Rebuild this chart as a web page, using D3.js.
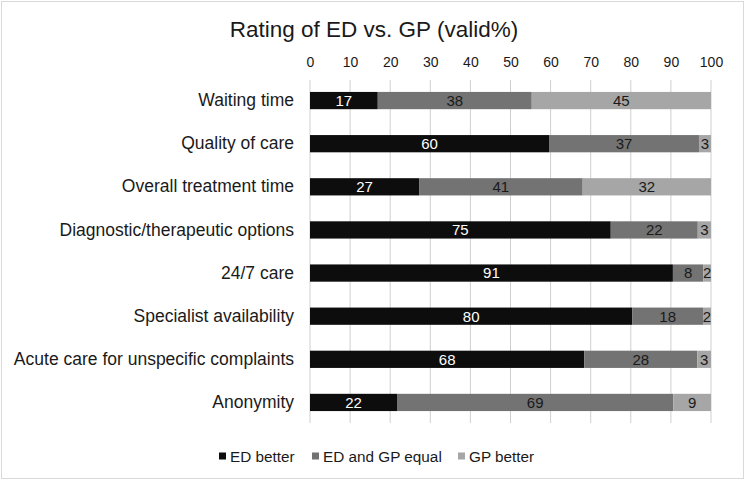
<!DOCTYPE html>
<html>
<head>
<meta charset="utf-8">
<script src="https://cdn.jsdelivr.net/npm/d3@7"></script>
<style>
  body { margin: 0; background: #fff; }
  svg { font-family: 'Liberation Sans', Arial, sans-serif; }
</style>
</head>
<body>
<svg width="745" height="480"></svg>
<script>
const categories = [
  'Waiting time',
  'Quality of care',
  'Overall treatment time',
  'Diagnostic/therapeutic options',
  '24/7 care',
  'Specialist availability',
  'Acute care for unspecific complaints',
  'Anonymity'
]
const seriesNames = ['ED better', 'ED and GP equal', 'GP better']
const edBetter = [16.9, 59.6, 27.2, 75.0, 90.5, 80.4, 68.4, 21.7]
const equal = [38.4, 37.4, 40.8, 21.7, 7.6, 17.6, 28.2, 68.9]
const gpBetter = [44.7, 3.0, 32.0, 3.3, 1.9, 2.0, 3.4, 9.4]
const xTicks = [0, 10, 20, 30, 40, 50, 60, 70, 80, 90, 100]

const colors = ['#0d0d0d', '#737373', '#a6a6a6']
const labelColors = ['#ffffff', '#1a1a1a', '#1a1a1a']
const fontFamily = "'Liberation Sans', Arial, sans-serif"

draw()

function draw () {
  const svg = d3.select('svg')
  const margin = { top: 79, left: 310, right: 34, bottom: 56 }
  const width = 745, height = 480

  svg.append('rect') // outer frame
    .attr('x', 1.5).attr('y', 1.5)
    .attr('width', width - 3).attr('height', height - 3)
    .attr('fill', '#fff').attr('stroke', '#d9d9d9')

  svg.append('text')
    .attr('x', 374).attr('y', 37)
    .attr('text-anchor', 'middle')
    .attr('font-size', 22.5)
    .attr('fill', '#1a1a1a')
    .text('Rating of ED vs. GP (valid%)')

  const x = d3.scaleLinear().domain([0, 100]).range([margin.left, width - margin.right])
  const y = d3.scaleBand().domain(categories)
    .range([margin.top, height - margin.bottom])
    .paddingInner(0.6).paddingOuter(0.3)

  // gridlines
  svg.append('g')
    .selectAll('line')
    .data(xTicks)
    .join('line')
      .attr('x1', d => x(d)).attr('x2', d => x(d))
      .attr('y1', margin.top + 1).attr('y2', height - margin.bottom - 1)
      .attr('stroke', '#cfcfcf').attr('stroke-width', 1)

  // top axis labels
  const axis = svg.append('g')
    .attr('transform', `translate(0, ${margin.top - 12})`)
    .call(d3.axisTop(x).tickValues(xTicks).tickSize(0).tickPadding(0))
  axis.select('.domain').remove()
  axis.selectAll('text').attr('font-size', 14).attr('fill', '#1a1a1a')
    .attr('font-family', fontFamily)

  // category labels
  const yAxis = svg.append('g')
    .attr('transform', `translate(${margin.left}, 0)`)
    .call(d3.axisLeft(y).tickSize(0).tickPadding(16))
  yAxis.select('.domain').remove()
  yAxis.selectAll('text').attr('font-size', 17.5).attr('fill', '#1a1a1a')
    .attr('font-family', fontFamily)

  const rows = categories.map((c, i) => ({ cat: c, values: [edBetter[i], equal[i], gpBetter[i]] }))
  const stacked = d3.stack().keys([0, 1, 2]).value((d, k) => d.values[k])(rows)

  const layers = svg.append('g').selectAll('g')
    .data(stacked)
    .join('g')
      .attr('fill', (d, i) => colors[i])

  layers.selectAll('rect')
    .data(d => d)
    .join('rect')
      .attr('x', d => x(d[0]))
      .attr('width', d => x(d[1]) - x(d[0]))
      .attr('y', d => y(d.data.cat))
      .attr('height', y.bandwidth())

  const fmt = d3.format('.0f')
  svg.append('g').selectAll('g')
    .data(stacked)
    .join('g')
      .attr('fill', (d, i) => labelColors[i])
    .selectAll('text')
    .data(d => d)
    .join('text')
      .attr('x', d => x((d[0] + d[1]) / 2))
      .attr('y', d => y(d.data.cat) + y.bandwidth() / 2)
      .attr('dy', '0.36em')
      .attr('text-anchor', 'middle')
      .attr('font-size', 15)
      .text(d => fmt(d[1] - d[0]))

  // legend
  const legendX = [219, 312, 458]
  const legend = svg.append('g').selectAll('g')
    .data(seriesNames)
    .join('g')
      .attr('transform', (d, i) => `translate(${legendX[i]}, 456)`)
  legend.append('rect')
    .attr('x', 0).attr('y', -3.5).attr('width', 7).attr('height', 7)
    .attr('fill', (d, i) => colors[i])
  legend.append('text')
    .attr('x', 11).attr('dy', '0.36em')
    .attr('font-size', 15.3).attr('fill', '#1a1a1a')
    .text(d => d)
}
</script>
</body>
</html>
